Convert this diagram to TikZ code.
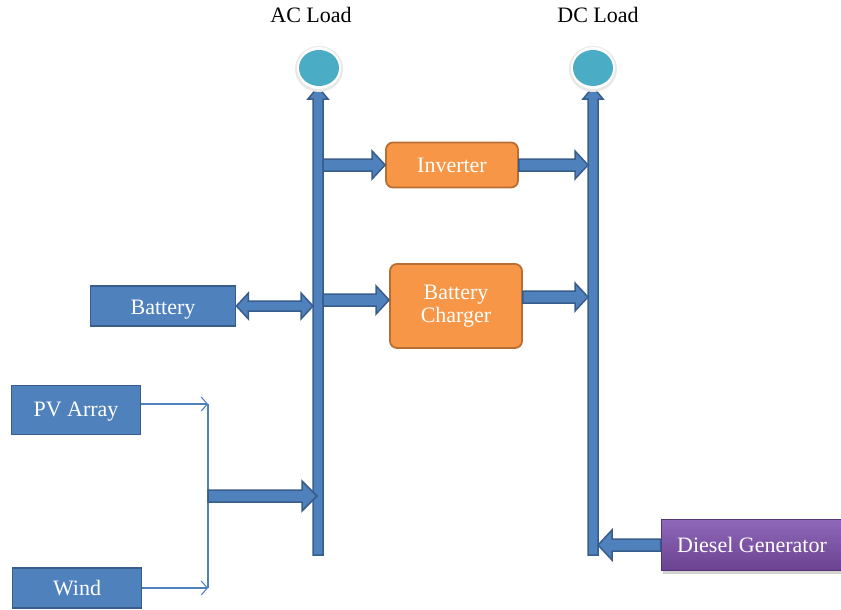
\documentclass[tikz,border=0pt]{standalone}
\usepackage{fontspec}
\setmainfont{Liberation Serif}
\usetikzlibrary{calc,shadows,shapes.geometric,arrows.meta}
\definecolor{busfill}{HTML}{4F81BD}
\definecolor{busline}{HTML}{385D8A}
\definecolor{orfill}{HTML}{F79646}
\definecolor{orline}{HTML}{B96E33}
\definecolor{loadblue}{HTML}{4BACC6}
\definecolor{purtop}{HTML}{9068BA}
\definecolor{purbot}{HTML}{6A4290}
\tikzset{
  every node/.style={font=\fontsize{22}{24}\selectfont},
  box/.style={draw=busline, fill=busfill, line width=1.8pt, text=white, inner sep=0pt, text depth=1pt},
  conv/.style={draw=orline, fill=orfill, line width=1.8pt, rounded corners=7pt, text=white, inner sep=0pt, align=center},
  fatline/.style={draw=busline, fill=busfill, line width=1.5pt, line join=miter},
  thin/.style={draw=busfill, line width=1.1pt},
  % block arrow: shaft half width, head half width, head length
  fat/.style n args={3}{fatline, to path={
    let \p1=($(\tikztotarget)!#3!(\tikztostart)$) in
    ($(\tikztostart)!#1!90:(\tikztotarget)$) -- ($(\p1)!#1!90:(\tikztotarget)$)
    -- ($(\p1)!#2!90:(\tikztotarget)$) -- (\tikztotarget)
    -- ($(\p1)!#2!-90:(\tikztotarget)$) -- ($(\p1)!#1!-90:(\tikztotarget)$)
    -- ($(\tikztostart)!#1!-90:(\tikztotarget)$) -- cycle}},
  fatboth/.style n args={3}{fatline, to path={
    let \p1=($(\tikztostart)!#3!(\tikztotarget)$),
        \p2=($(\tikztotarget)!#3!(\tikztostart)$) in
    (\tikztostart) -- ($(\p1)!#2!90:(\tikztotarget)$) -- ($(\p1)!#1!90:(\tikztotarget)$)
    -- ($(\p2)!#1!90:(\tikztotarget)$) -- ($(\p2)!#2!90:(\tikztotarget)$)
    -- (\tikztotarget)
    -- ($(\p2)!#2!-90:(\tikztotarget)$) -- ($(\p2)!#1!-90:(\tikztotarget)$)
    -- ($(\p1)!#1!-90:(\tikztotarget)$) -- ($(\p1)!#2!-90:(\tikztotarget)$)
    -- cycle}},
}
\begin{document}
\begin{tikzpicture}[x=1pt, y=-1pt]
  \useasboundingbox (0,0) rectangle (841,610);

  % buses
  \coordinate (acbot) at (318,555);
  \coordinate (actop) at (318,87);
  \coordinate (dcbot) at (593,555);
  \coordinate (dctop) at (593,87);
  \draw[fat={5pt}{10pt}{12pt}] (acbot) to (actop);
  \draw[fat={5pt}{10pt}{12pt}] (dcbot) to (dctop);

  % loads
  \foreach \name/\x in {acload/319, dcload/593} {
    \fill[gray!18] (\x,69) ellipse (24 and 23);
    \fill[white] (\x,68) ellipse (22 and 21);
    \node[fill=loadblue, ellipse, minimum width=40, minimum height=36, inner sep=0pt] (\name) at (\x,68) {};
  }
  \node (aclabel) at (311,15) {AC Load};
  \node (dclabel) at (598,15) {DC Load};

  % converters
  \node[conv, minimum width=132, minimum height=45] (inv) at (452,165) {Inverter};
  \node[conv, minimum width=132, minimum height=84] (chg) at (456,306) {Battery\\[-1pt]Charger};

  % sources
  \node[box, minimum width=145, minimum height=40, text depth=0pt] (bat) at (163,306) {\raisebox{-3pt}{Battery}};
  \node[box, minimum width=129, minimum height=49] (pv) at (76,410) {PV Array};
  \node[box, minimum width=129, minimum height=40] (wind) at (77,588) {Wind};
  \node[draw=purbot!80!black, line width=0.8pt, top color=purtop, bottom color=purbot, text=white,
        minimum width=182, minimum height=51, inner sep=0pt,
        drop shadow={opacity=0.35, shadow xshift=2pt, shadow yshift=-3pt}] (dg) at (752,545) {Diesel Generator};

  % bus taps
  \coordinate (acinv) at (323,165);
  \coordinate (dcinv) at (588,165);
  \coordinate (acchg) at (323,300);
  \coordinate (dcchg) at (588,297);
  \coordinate (acbat) at (313,306);
  \coordinate (acren) at (317,496);
  \coordinate (dcdg) at (598,545);

  \draw[fat={6pt}{14pt}{13pt}] (acinv) to (inv.west);
  \draw[fat={6pt}{14pt}{13pt}] (inv.east) to (dcinv);
  \draw[fat={6pt}{14pt}{13pt}] (acchg) to (acchg -| chg.west);
  \draw[fat={6pt}{14pt}{13pt}] (chg.east |- dcchg) to (dcchg);
  \draw[fatboth={5pt}{13pt}{12pt}] (bat.east) to (acbat);
  \draw[fat={6pt}{15pt}{14pt}] (dg.west) to (dcdg);

  % renewable junction
  \coordinate (jpv) at (208,404);
  \coordinate (jwind) at (208,588);
  \coordinate (jmid) at (208,496);
  \draw[thin, ->, >={Straight Barb[length=6pt, width=14pt]}] ([yshift=6pt]pv.east) -- (jpv);
  \draw[thin, ->, >={Straight Barb[length=6pt, width=14pt]}] (wind.east) -- (jwind);
  \draw[thin] (jpv) -- (jwind);
  \draw[fat={6pt}{15pt}{15pt}] (jmid) to (acren);
\end{tikzpicture}
\end{document}
